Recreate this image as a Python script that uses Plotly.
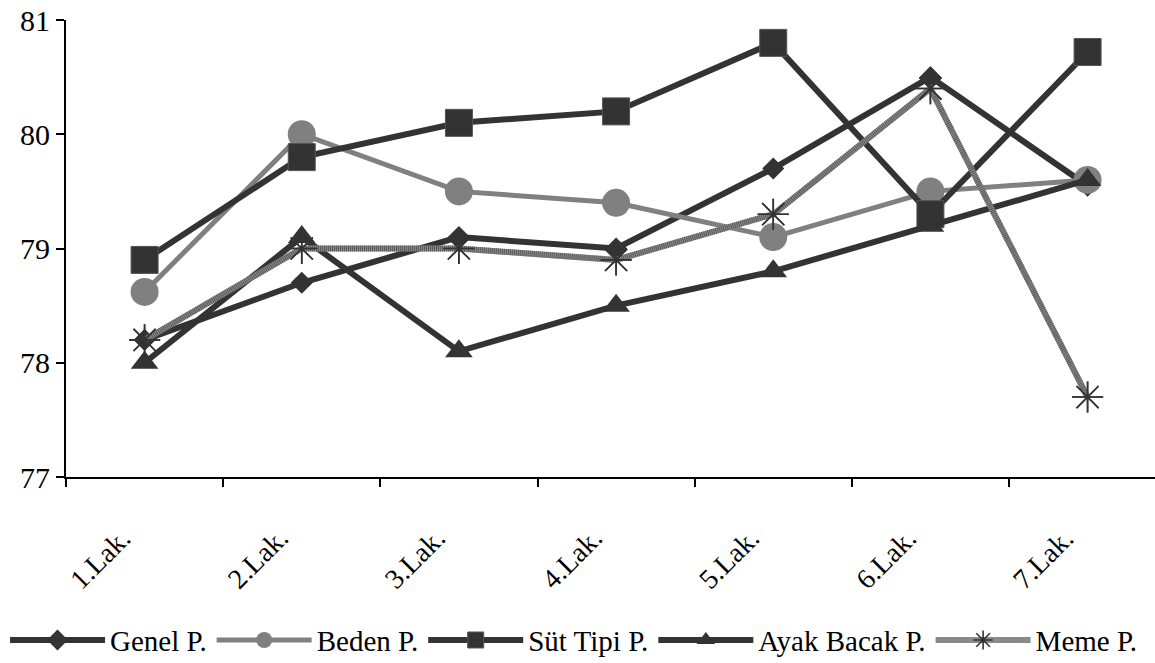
import plotly.graph_objects as go

# Laktasyon sıraları
laktasyon = ["1.Lak.", "2.Lak.", "3.Lak.", "4.Lak.", "5.Lak.", "6.Lak.", "7.Lak."]

# Puan serileri
genel_p = [78.2, 78.7, 79.1, 79.0, 79.7, 80.5, 79.55]
beden_p = [78.62, 80.0, 79.5, 79.4, 79.1, 79.5, 79.6]
sut_tipi_p = [78.9, 79.8, 80.1, 80.2, 80.8, 79.3, 80.72]
ayak_bacak_p = [78.0, 79.1, 78.1, 78.5, 78.8, 79.2, 79.6]
meme_p = [78.2, 79.0, 79.0, 78.9, 79.3, 80.4, 77.7]

DARK = "#333333"
GRAY = "#808080"
FONT = "Liberation Serif"

fig = go.Figure()

fig.add_trace(go.Scatter(
    x=laktasyon, y=genel_p, name="Genel P.", mode="lines+markers",
    line=dict(color=DARK, width=6),
    marker=dict(symbol="diamond", size=17, color=DARK),
))
fig.add_trace(go.Scatter(
    x=laktasyon, y=beden_p, name="Beden P.", mode="lines+markers",
    line=dict(color=GRAY, width=5),
    marker=dict(symbol="circle", size=28, color=GRAY),
))
fig.add_trace(go.Scatter(
    x=laktasyon, y=sut_tipi_p, name="Süt Tipi P.", mode="lines+markers",
    line=dict(color=DARK, width=6),
    marker=dict(symbol="square", size=27, color=DARK,
                line=dict(color="#555555", width=1)),
))
fig.add_trace(go.Scatter(
    x=laktasyon, y=ayak_bacak_p, name="Ayak Bacak P.", mode="lines+markers",
    line=dict(color=DARK, width=6),
    marker=dict(symbol="triangle-up", size=24, color=DARK),
))
# Meme P.: striped grey line (grey base + fine dark dashes on top)
fig.add_trace(go.Scatter(
    x=laktasyon, y=meme_p, name="Meme P.", mode="lines+markers",
    line=dict(color="#8a8a8a", width=6),
    marker=dict(symbol="asterisk-open", size=26, color=DARK,
                line=dict(color=DARK, width=1.6)),
))
fig.add_trace(go.Scatter(
    x=laktasyon, y=meme_p, mode="lines", showlegend=False, hoverinfo="skip",
    line=dict(color="#5a5a5a", width=6, dash="1px,1px"),
))
fig.add_trace(go.Scatter(
    x=laktasyon, y=meme_p, mode="markers", showlegend=False, hoverinfo="skip",
    marker=dict(symbol="asterisk-open", size=26, color=DARK,
                line=dict(color=DARK, width=1.6)),
))

# Category labels, rotated 45°, hung below the axis with their end under the category
for lab in laktasyon:
    fig.add_annotation(
        x=lab, xref="x", y=-0.092, yref="paper",
        text=lab, textangle=-45, showarrow=False,
        xanchor="right", yanchor="top", xshift=-5,
        font=dict(family=FONT, size=28, color="black"),
    )

fig.update_layout(
    width=1155, height=663,
    margin=dict(l=66, r=0, t=20, b=186, autoexpand=False),
    paper_bgcolor="white", plot_bgcolor="white",
    font=dict(family=FONT, size=28, color="black"),
    showlegend=True,
    legend=dict(
        orientation="h", x=-0.056, xanchor="left", y=-0.357, yanchor="middle",
        font=dict(family=FONT, size=29, color="black"),
        itemwidth=95, tracegroupgap=0, bgcolor="rgba(0,0,0,0)",
    ),
)

fig.update_xaxes(
    type="category", range=[-0.5, 6.429],
    tickson="boundaries", ticks="outside", ticklen=8, tickwidth=2, tickcolor="black",
    showline=True, linecolor="black", linewidth=2,
    showgrid=False, zeroline=False, showticklabels=False,
)
fig.update_yaxes(
    range=[77, 81], dtick=1, tick0=77,
    ticks="outside", ticklen=8, tickwidth=2, tickcolor="black",
    showline=True, linecolor="black", linewidth=2,
    showgrid=False, zeroline=False,
    tickfont=dict(family=FONT, size=30, color="black"),
)

fig.write_html("out.html")
